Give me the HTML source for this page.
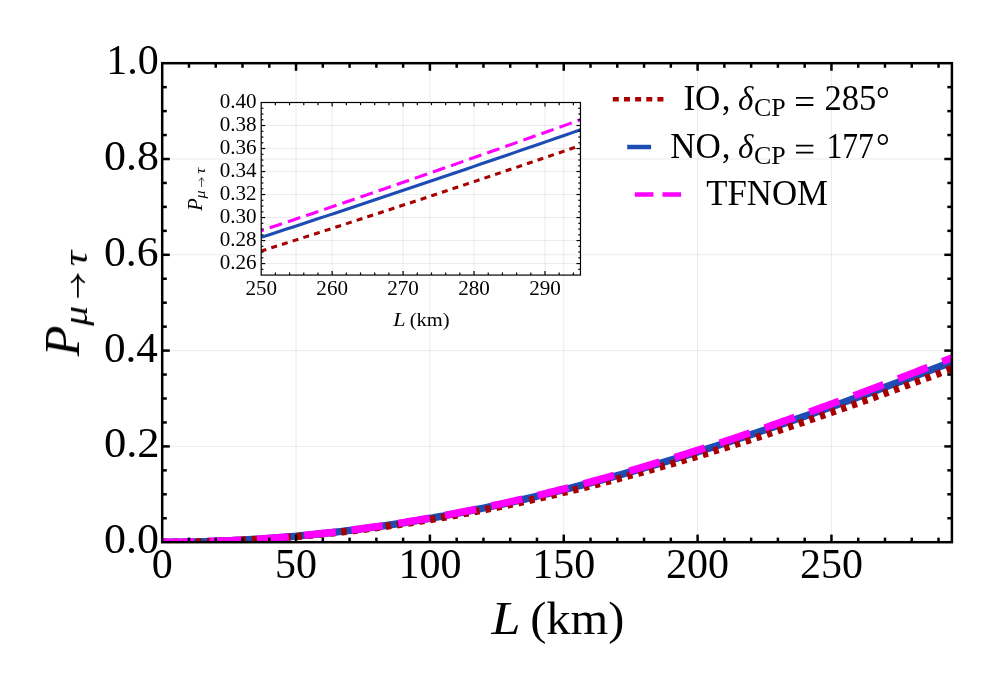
<!DOCTYPE html>
<html><head><meta charset="utf-8"><title>plot</title>
<style>html,body{margin:0;padding:0;background:#fff}svg{display:block}text{font-family:"Liberation Serif",serif;fill:#000;font-kerning:none}</style></head><body>
<svg width="997" height="691" viewBox="0 0 997 691">
<rect width="997" height="691" fill="#fff"/>
<defs><clipPath id="cm"><rect x="162.20" y="63.20" width="789.71" height="479.00"/></clipPath><clipPath id="ci"><rect x="261.20" y="102.50" width="319.27" height="172.57"/></clipPath>
</defs>
<g stroke="rgba(0,0,0,0.08)" stroke-width="1">
<line x1="296.05" y1="63.20" x2="296.05" y2="542.20"/>
<line x1="429.90" y1="63.20" x2="429.90" y2="542.20"/>
<line x1="563.75" y1="63.20" x2="563.75" y2="542.20"/>
<line x1="697.60" y1="63.20" x2="697.60" y2="542.20"/>
<line x1="831.45" y1="63.20" x2="831.45" y2="542.20"/>
<line x1="162.20" y1="446.40" x2="951.91" y2="446.40"/>
<line x1="162.20" y1="350.60" x2="951.91" y2="350.60"/>
<line x1="162.20" y1="254.80" x2="951.91" y2="254.80"/>
<line x1="162.20" y1="159.00" x2="951.91" y2="159.00"/>
</g>
<g clip-path="url(#cm)" fill="none">
<path d="M162.20,542.20 L165.50,542.20 L168.81,542.19 L172.11,542.17 L175.42,542.14 L178.72,542.11 L182.03,542.07 L185.33,542.02 L188.63,541.96 L191.94,541.90 L195.24,541.83 L198.55,541.75 L201.85,541.67 L205.16,541.57 L208.46,541.48 L211.76,541.37 L215.07,541.25 L218.37,541.13 L221.68,541.00 L224.98,540.87 L228.28,540.72 L231.59,540.57 L234.89,540.41 L238.20,540.25 L241.50,540.07 L244.81,539.89 L248.11,539.70 L251.41,539.51 L254.72,539.31 L258.02,539.10 L261.33,538.88 L264.63,538.65 L267.94,538.42 L271.24,538.18 L274.54,537.94 L277.85,537.68 L281.15,537.42 L284.46,537.15 L287.76,536.88 L291.07,536.60 L294.37,536.31 L297.67,536.01 L300.98,535.70 L304.28,535.39 L307.59,535.07 L310.89,534.75 L314.20,534.42 L317.50,534.08 L320.80,533.73 L324.11,533.37 L327.41,533.01 L330.72,532.64 L334.02,532.27 L337.33,531.89 L340.63,531.50 L343.93,531.10 L347.24,530.70 L350.54,530.29 L353.85,529.87 L357.15,529.44 L360.45,529.01 L363.76,528.57 L367.06,528.13 L370.37,527.67 L373.67,527.21 L376.98,526.75 L380.28,526.27 L383.58,525.79 L386.89,525.31 L390.19,524.81 L393.50,524.31 L396.80,523.80 L400.11,523.29 L403.41,522.77 L406.71,522.24 L410.02,521.71 L413.32,521.17 L416.63,520.62 L419.93,520.06 L423.24,519.50 L426.54,518.93 L429.84,518.36 L433.15,517.78 L436.45,517.19 L439.76,516.59 L443.06,515.99 L446.37,515.39 L449.67,514.77 L452.97,514.15 L456.28,513.52 L459.58,512.89 L462.89,512.25 L466.19,511.60 L469.49,510.95 L472.80,510.29 L476.10,509.63 L479.41,508.95 L482.71,508.28 L486.02,507.59 L489.32,506.90 L492.62,506.20 L495.93,505.50 L499.23,504.79 L502.54,504.08 L505.84,503.35 L509.15,502.63 L512.45,501.89 L515.75,501.15 L519.06,500.41 L522.36,499.65 L525.67,498.90 L528.97,498.13 L532.28,497.36 L535.58,496.59 L538.88,495.80 L542.19,495.02 L545.49,494.22 L548.80,493.42 L552.10,492.62 L555.41,491.81 L558.71,490.99 L562.01,490.17 L565.32,489.34 L568.62,488.51 L571.93,487.67 L575.23,486.82 L578.54,485.97 L581.84,485.12 L585.14,484.25 L588.45,483.39 L591.75,482.51 L595.06,481.64 L598.36,480.75 L601.66,479.86 L604.97,478.97 L608.27,478.07 L611.58,477.17 L614.88,476.26 L618.19,475.34 L621.49,474.42 L624.79,473.49 L628.10,472.56 L631.40,471.63 L634.71,470.69 L638.01,469.74 L641.32,468.79 L644.62,467.83 L647.92,466.87 L651.23,465.91 L654.53,464.94 L657.84,463.96 L661.14,462.98 L664.45,462.00 L667.75,461.01 L671.05,460.01 L674.36,459.01 L677.66,458.01 L680.97,457.00 L684.27,455.99 L687.58,454.97 L690.88,453.95 L694.18,452.92 L697.49,451.89 L700.79,450.85 L704.10,449.81 L707.40,448.77 L710.70,447.72 L714.01,446.66 L717.31,445.61 L720.62,444.55 L723.92,443.48 L727.23,442.41 L730.53,441.34 L733.83,440.26 L737.14,439.18 L740.44,438.09 L743.75,437.00 L747.05,435.91 L750.36,434.81 L753.66,433.71 L756.96,432.60 L760.27,431.49 L763.57,430.38 L766.88,429.26 L770.18,428.14 L773.49,427.02 L776.79,425.89 L780.09,424.76 L783.40,423.62 L786.70,422.48 L790.01,421.34 L793.31,420.19 L796.62,419.05 L799.92,417.89 L803.22,416.74 L806.53,415.58 L809.83,414.42 L813.14,413.25 L816.44,412.08 L819.75,410.91 L823.05,409.74 L826.35,408.56 L829.66,407.38 L832.96,406.20 L836.27,405.01 L839.57,403.82 L842.87,402.63 L846.18,401.43 L849.48,400.24 L852.79,399.04 L856.09,397.83 L859.40,396.63 L862.70,395.42 L866.00,394.21 L869.31,392.99 L872.61,391.78 L875.92,390.56 L879.22,389.34 L882.53,388.12 L885.83,386.89 L889.13,385.66 L892.44,384.43 L895.74,383.20 L899.05,381.97 L902.35,380.73 L905.66,379.49 L908.96,378.25 L912.26,377.01 L915.57,375.76 L918.87,374.52 L922.18,373.27 L925.48,372.02 L928.79,370.76 L932.09,369.51 L935.39,368.25 L938.70,367.00 L942.00,365.74 L945.31,364.48 L948.61,363.22 L951.91,361.95" stroke="#1c4cb4" stroke-width="7.3"/>
<path d="M162.20,542.20 L165.50,542.20 L168.81,542.19 L172.11,542.17 L175.42,542.14 L178.72,542.11 L182.03,542.07 L185.33,542.03 L188.63,541.98 L191.94,541.92 L195.24,541.85 L198.55,541.78 L201.85,541.70 L205.16,541.61 L208.46,541.52 L211.76,541.41 L215.07,541.31 L218.37,541.19 L221.68,541.07 L224.98,540.94 L228.28,540.80 L231.59,540.66 L234.89,540.51 L238.20,540.35 L241.50,540.19 L244.81,540.02 L248.11,539.84 L251.41,539.66 L254.72,539.47 L258.02,539.27 L261.33,539.06 L264.63,538.85 L267.94,538.63 L271.24,538.41 L274.54,538.17 L277.85,537.93 L281.15,537.69 L284.46,537.43 L287.76,537.17 L291.07,536.91 L294.37,536.63 L297.67,536.35 L300.98,536.06 L304.28,535.77 L307.59,535.47 L310.89,535.16 L314.20,534.85 L317.50,534.52 L320.80,534.20 L324.11,533.86 L327.41,533.52 L330.72,533.17 L334.02,532.82 L337.33,532.45 L340.63,532.09 L343.93,531.71 L347.24,531.33 L350.54,530.94 L353.85,530.54 L357.15,530.14 L360.45,529.73 L363.76,529.32 L367.06,528.90 L370.37,528.47 L373.67,528.03 L376.98,527.59 L380.28,527.14 L383.58,526.69 L386.89,526.23 L390.19,525.76 L393.50,525.28 L396.80,524.80 L400.11,524.32 L403.41,523.82 L406.71,523.32 L410.02,522.82 L413.32,522.30 L416.63,521.78 L419.93,521.26 L423.24,520.72 L426.54,520.19 L429.84,519.64 L433.15,519.09 L436.45,518.53 L439.76,517.97 L443.06,517.40 L446.37,516.82 L449.67,516.24 L452.97,515.65 L456.28,515.05 L459.58,514.45 L462.89,513.84 L466.19,513.23 L469.49,512.61 L472.80,511.98 L476.10,511.35 L479.41,510.71 L482.71,510.07 L486.02,509.42 L489.32,508.76 L492.62,508.10 L495.93,507.43 L499.23,506.76 L502.54,506.07 L505.84,505.39 L509.15,504.70 L512.45,504.00 L515.75,503.29 L519.06,502.58 L522.36,501.87 L525.67,501.15 L528.97,500.42 L532.28,499.68 L535.58,498.95 L538.88,498.20 L542.19,497.45 L545.49,496.69 L548.80,495.93 L552.10,495.16 L555.41,494.39 L558.71,493.61 L562.01,492.83 L565.32,492.04 L568.62,491.24 L571.93,490.44 L575.23,489.63 L578.54,488.82 L581.84,488.00 L585.14,487.18 L588.45,486.35 L591.75,485.52 L595.06,484.68 L598.36,483.84 L601.66,482.99 L604.97,482.13 L608.27,481.27 L611.58,480.40 L614.88,479.53 L618.19,478.66 L621.49,477.78 L624.79,476.89 L628.10,476.00 L631.40,475.10 L634.71,474.20 L638.01,473.29 L641.32,472.38 L644.62,471.47 L647.92,470.55 L651.23,469.62 L654.53,468.69 L657.84,467.75 L661.14,466.81 L664.45,465.86 L667.75,464.91 L671.05,463.96 L674.36,463.00 L677.66,462.03 L680.97,461.06 L684.27,460.09 L687.58,459.11 L690.88,458.13 L694.18,457.14 L697.49,456.15 L700.79,455.15 L704.10,454.15 L707.40,453.14 L710.70,452.13 L714.01,451.12 L717.31,450.10 L720.62,449.08 L723.92,448.05 L727.23,447.02 L730.53,445.98 L733.83,444.94 L737.14,443.89 L740.44,442.84 L743.75,441.79 L747.05,440.73 L750.36,439.67 L753.66,438.61 L756.96,437.54 L760.27,436.47 L763.57,435.39 L766.88,434.31 L770.18,433.22 L773.49,432.13 L776.79,431.04 L780.09,429.94 L783.40,428.84 L786.70,427.74 L790.01,426.63 L793.31,425.52 L796.62,424.41 L799.92,423.29 L803.22,422.17 L806.53,421.04 L809.83,419.91 L813.14,418.78 L816.44,417.64 L819.75,416.50 L823.05,415.36 L826.35,414.21 L829.66,413.06 L832.96,411.91 L836.27,410.75 L839.57,409.60 L842.87,408.43 L846.18,407.27 L849.48,406.10 L852.79,404.93 L856.09,403.75 L859.40,402.57 L862.70,401.39 L866.00,400.21 L869.31,399.02 L872.61,397.83 L875.92,396.64 L879.22,395.45 L882.53,394.25 L885.83,393.05 L889.13,391.84 L892.44,390.64 L895.74,389.43 L899.05,388.22 L902.35,387.01 L905.66,385.79 L908.96,384.57 L912.26,383.35 L915.57,382.12 L918.87,380.90 L922.18,379.67 L925.48,378.44 L928.79,377.21 L932.09,375.97 L935.39,374.73 L938.70,373.49 L942.00,372.25 L945.31,371.01 L948.61,369.76 L951.91,368.51" stroke="#a80000" stroke-width="7.3" stroke-dasharray="5.3 5.917"/>
<path d="M162.20,542.20 L165.50,542.20 L168.81,542.18 L172.11,542.17 L175.42,542.14 L178.72,542.11 L182.03,542.06 L185.33,542.02 L188.63,541.96 L191.94,541.90 L195.24,541.82 L198.55,541.75 L201.85,541.66 L205.16,541.57 L208.46,541.46 L211.76,541.36 L215.07,541.24 L218.37,541.12 L221.68,540.99 L224.98,540.85 L228.28,540.70 L231.59,540.55 L234.89,540.39 L238.20,540.22 L241.50,540.04 L244.81,539.86 L248.11,539.67 L251.41,539.47 L254.72,539.26 L258.02,539.05 L261.33,538.83 L264.63,538.60 L267.94,538.37 L271.24,538.13 L274.54,537.88 L277.85,537.62 L281.15,537.35 L284.46,537.08 L287.76,536.80 L291.07,536.52 L294.37,536.22 L297.67,535.92 L300.98,535.61 L304.28,535.30 L307.59,534.97 L310.89,534.64 L314.20,534.30 L317.50,533.96 L320.80,533.61 L324.11,533.25 L327.41,532.88 L330.72,532.51 L334.02,532.13 L337.33,531.74 L340.63,531.34 L343.93,530.94 L347.24,530.53 L350.54,530.11 L353.85,529.69 L357.15,529.26 L360.45,528.82 L363.76,528.37 L367.06,527.92 L370.37,527.46 L373.67,526.99 L376.98,526.52 L380.28,526.04 L383.58,525.55 L386.89,525.06 L390.19,524.56 L393.50,524.05 L396.80,523.53 L400.11,523.01 L403.41,522.48 L406.71,521.94 L410.02,521.40 L413.32,520.85 L416.63,520.29 L419.93,519.73 L423.24,519.16 L426.54,518.58 L429.84,518.00 L433.15,517.41 L436.45,516.81 L439.76,516.21 L443.06,515.59 L446.37,514.98 L449.67,514.35 L452.97,513.72 L456.28,513.08 L459.58,512.44 L462.89,511.79 L466.19,511.13 L469.49,510.47 L472.80,509.80 L476.10,509.12 L479.41,508.44 L482.71,507.75 L486.02,507.05 L489.32,506.35 L492.62,505.64 L495.93,504.93 L499.23,504.20 L502.54,503.48 L505.84,502.74 L509.15,502.00 L512.45,501.25 L515.75,500.50 L519.06,499.74 L522.36,498.98 L525.67,498.21 L528.97,497.43 L532.28,496.64 L535.58,495.85 L538.88,495.06 L542.19,494.26 L545.49,493.45 L548.80,492.63 L552.10,491.81 L555.41,490.99 L558.71,490.16 L562.01,489.32 L565.32,488.47 L568.62,487.63 L571.93,486.77 L575.23,485.91 L578.54,485.04 L581.84,484.17 L585.14,483.29 L588.45,482.41 L591.75,481.52 L595.06,480.62 L598.36,479.72 L601.66,478.82 L604.97,477.90 L608.27,476.99 L611.58,476.06 L614.88,475.14 L618.19,474.20 L621.49,473.26 L624.79,472.32 L628.10,471.37 L631.40,470.41 L634.71,469.45 L638.01,468.49 L641.32,467.52 L644.62,466.54 L647.92,465.56 L651.23,464.57 L654.53,463.58 L657.84,462.59 L661.14,461.59 L664.45,460.58 L667.75,459.57 L671.05,458.55 L674.36,457.53 L677.66,456.50 L680.97,455.47 L684.27,454.44 L687.58,453.40 L690.88,452.35 L694.18,451.30 L697.49,450.25 L700.79,449.19 L704.10,448.12 L707.40,447.06 L710.70,445.98 L714.01,444.91 L717.31,443.82 L720.62,442.74 L723.92,441.65 L727.23,440.55 L730.53,439.45 L733.83,438.35 L737.14,437.24 L740.44,436.13 L743.75,435.01 L747.05,433.89 L750.36,432.76 L753.66,431.64 L756.96,430.50 L760.27,429.37 L763.57,428.22 L766.88,427.08 L770.18,425.93 L773.49,424.78 L776.79,423.62 L780.09,422.46 L783.40,421.30 L786.70,420.13 L790.01,418.96 L793.31,417.78 L796.62,416.60 L799.92,415.42 L803.22,414.23 L806.53,413.04 L809.83,411.85 L813.14,410.65 L816.44,409.45 L819.75,408.25 L823.05,407.04 L826.35,405.83 L829.66,404.62 L832.96,403.40 L836.27,402.18 L839.57,400.96 L842.87,399.73 L846.18,398.51 L849.48,397.27 L852.79,396.04 L856.09,394.80 L859.40,393.56 L862.70,392.32 L866.00,391.07 L869.31,389.82 L872.61,388.57 L875.92,387.31 L879.22,386.05 L882.53,384.79 L885.83,383.53 L889.13,382.27 L892.44,381.00 L895.74,379.73 L899.05,378.45 L902.35,377.18 L905.66,375.90 L908.96,374.62 L912.26,373.34 L915.57,372.05 L918.87,370.77 L922.18,369.48 L925.48,368.19 L928.79,366.89 L932.09,365.60 L935.39,364.30 L938.70,363.00 L942.00,361.70 L945.31,360.40 L948.61,359.09 L951.91,357.79" stroke="#ff00ff" stroke-width="7.3" stroke-dasharray="31.8 15.6"/>
</g>
<g stroke="#000" stroke-width="2.5" fill="none">
<rect x="162.20" y="63.20" width="789.71" height="479.00"/>
<line x1="188.97" y1="542.20" x2="188.97" y2="537.60"/>
<line x1="188.97" y1="63.20" x2="188.97" y2="67.80"/>
<line x1="215.74" y1="542.20" x2="215.74" y2="537.60"/>
<line x1="215.74" y1="63.20" x2="215.74" y2="67.80"/>
<line x1="242.51" y1="542.20" x2="242.51" y2="537.60"/>
<line x1="242.51" y1="63.20" x2="242.51" y2="67.80"/>
<line x1="269.28" y1="542.20" x2="269.28" y2="537.60"/>
<line x1="269.28" y1="63.20" x2="269.28" y2="67.80"/>
<line x1="296.05" y1="542.20" x2="296.05" y2="534.60"/>
<line x1="296.05" y1="63.20" x2="296.05" y2="70.80"/>
<line x1="322.82" y1="542.20" x2="322.82" y2="537.60"/>
<line x1="322.82" y1="63.20" x2="322.82" y2="67.80"/>
<line x1="349.59" y1="542.20" x2="349.59" y2="537.60"/>
<line x1="349.59" y1="63.20" x2="349.59" y2="67.80"/>
<line x1="376.36" y1="542.20" x2="376.36" y2="537.60"/>
<line x1="376.36" y1="63.20" x2="376.36" y2="67.80"/>
<line x1="403.13" y1="542.20" x2="403.13" y2="537.60"/>
<line x1="403.13" y1="63.20" x2="403.13" y2="67.80"/>
<line x1="429.90" y1="542.20" x2="429.90" y2="534.60"/>
<line x1="429.90" y1="63.20" x2="429.90" y2="70.80"/>
<line x1="456.67" y1="542.20" x2="456.67" y2="537.60"/>
<line x1="456.67" y1="63.20" x2="456.67" y2="67.80"/>
<line x1="483.44" y1="542.20" x2="483.44" y2="537.60"/>
<line x1="483.44" y1="63.20" x2="483.44" y2="67.80"/>
<line x1="510.21" y1="542.20" x2="510.21" y2="537.60"/>
<line x1="510.21" y1="63.20" x2="510.21" y2="67.80"/>
<line x1="536.98" y1="542.20" x2="536.98" y2="537.60"/>
<line x1="536.98" y1="63.20" x2="536.98" y2="67.80"/>
<line x1="563.75" y1="542.20" x2="563.75" y2="534.60"/>
<line x1="563.75" y1="63.20" x2="563.75" y2="70.80"/>
<line x1="590.52" y1="542.20" x2="590.52" y2="537.60"/>
<line x1="590.52" y1="63.20" x2="590.52" y2="67.80"/>
<line x1="617.29" y1="542.20" x2="617.29" y2="537.60"/>
<line x1="617.29" y1="63.20" x2="617.29" y2="67.80"/>
<line x1="644.06" y1="542.20" x2="644.06" y2="537.60"/>
<line x1="644.06" y1="63.20" x2="644.06" y2="67.80"/>
<line x1="670.83" y1="542.20" x2="670.83" y2="537.60"/>
<line x1="670.83" y1="63.20" x2="670.83" y2="67.80"/>
<line x1="697.60" y1="542.20" x2="697.60" y2="534.60"/>
<line x1="697.60" y1="63.20" x2="697.60" y2="70.80"/>
<line x1="724.37" y1="542.20" x2="724.37" y2="537.60"/>
<line x1="724.37" y1="63.20" x2="724.37" y2="67.80"/>
<line x1="751.14" y1="542.20" x2="751.14" y2="537.60"/>
<line x1="751.14" y1="63.20" x2="751.14" y2="67.80"/>
<line x1="777.91" y1="542.20" x2="777.91" y2="537.60"/>
<line x1="777.91" y1="63.20" x2="777.91" y2="67.80"/>
<line x1="804.68" y1="542.20" x2="804.68" y2="537.60"/>
<line x1="804.68" y1="63.20" x2="804.68" y2="67.80"/>
<line x1="831.45" y1="542.20" x2="831.45" y2="534.60"/>
<line x1="831.45" y1="63.20" x2="831.45" y2="70.80"/>
<line x1="858.22" y1="542.20" x2="858.22" y2="537.60"/>
<line x1="858.22" y1="63.20" x2="858.22" y2="67.80"/>
<line x1="884.99" y1="542.20" x2="884.99" y2="537.60"/>
<line x1="884.99" y1="63.20" x2="884.99" y2="67.80"/>
<line x1="911.76" y1="542.20" x2="911.76" y2="537.60"/>
<line x1="911.76" y1="63.20" x2="911.76" y2="67.80"/>
<line x1="938.53" y1="542.20" x2="938.53" y2="537.60"/>
<line x1="938.53" y1="63.20" x2="938.53" y2="67.80"/>
<line x1="162.20" y1="518.25" x2="166.80" y2="518.25"/>
<line x1="951.91" y1="518.25" x2="947.31" y2="518.25"/>
<line x1="162.20" y1="494.30" x2="166.80" y2="494.30"/>
<line x1="951.91" y1="494.30" x2="947.31" y2="494.30"/>
<line x1="162.20" y1="470.35" x2="166.80" y2="470.35"/>
<line x1="951.91" y1="470.35" x2="947.31" y2="470.35"/>
<line x1="162.20" y1="446.40" x2="169.80" y2="446.40"/>
<line x1="951.91" y1="446.40" x2="944.31" y2="446.40"/>
<line x1="162.20" y1="422.45" x2="166.80" y2="422.45"/>
<line x1="951.91" y1="422.45" x2="947.31" y2="422.45"/>
<line x1="162.20" y1="398.50" x2="166.80" y2="398.50"/>
<line x1="951.91" y1="398.50" x2="947.31" y2="398.50"/>
<line x1="162.20" y1="374.55" x2="166.80" y2="374.55"/>
<line x1="951.91" y1="374.55" x2="947.31" y2="374.55"/>
<line x1="162.20" y1="350.60" x2="169.80" y2="350.60"/>
<line x1="951.91" y1="350.60" x2="944.31" y2="350.60"/>
<line x1="162.20" y1="326.65" x2="166.80" y2="326.65"/>
<line x1="951.91" y1="326.65" x2="947.31" y2="326.65"/>
<line x1="162.20" y1="302.70" x2="166.80" y2="302.70"/>
<line x1="951.91" y1="302.70" x2="947.31" y2="302.70"/>
<line x1="162.20" y1="278.75" x2="166.80" y2="278.75"/>
<line x1="951.91" y1="278.75" x2="947.31" y2="278.75"/>
<line x1="162.20" y1="254.80" x2="169.80" y2="254.80"/>
<line x1="951.91" y1="254.80" x2="944.31" y2="254.80"/>
<line x1="162.20" y1="230.85" x2="166.80" y2="230.85"/>
<line x1="951.91" y1="230.85" x2="947.31" y2="230.85"/>
<line x1="162.20" y1="206.90" x2="166.80" y2="206.90"/>
<line x1="951.91" y1="206.90" x2="947.31" y2="206.90"/>
<line x1="162.20" y1="182.95" x2="166.80" y2="182.95"/>
<line x1="951.91" y1="182.95" x2="947.31" y2="182.95"/>
<line x1="162.20" y1="159.00" x2="169.80" y2="159.00"/>
<line x1="951.91" y1="159.00" x2="944.31" y2="159.00"/>
<line x1="162.20" y1="135.05" x2="166.80" y2="135.05"/>
<line x1="951.91" y1="135.05" x2="947.31" y2="135.05"/>
<line x1="162.20" y1="111.10" x2="166.80" y2="111.10"/>
<line x1="951.91" y1="111.10" x2="947.31" y2="111.10"/>
<line x1="162.20" y1="87.15" x2="166.80" y2="87.15"/>
<line x1="951.91" y1="87.15" x2="947.31" y2="87.15"/>
</g>
<g stroke="rgba(0,0,0,0.08)" stroke-width="1">
<line x1="332.15" y1="102.50" x2="332.15" y2="275.07"/>
<line x1="403.10" y1="102.50" x2="403.10" y2="275.07"/>
<line x1="474.05" y1="102.50" x2="474.05" y2="275.07"/>
<line x1="545.00" y1="102.50" x2="545.00" y2="275.07"/>
<line x1="261.20" y1="263.57" x2="580.47" y2="263.57"/>
<line x1="261.20" y1="240.56" x2="580.47" y2="240.56"/>
<line x1="261.20" y1="217.55" x2="580.47" y2="217.55"/>
<line x1="261.20" y1="194.54" x2="580.47" y2="194.54"/>
<line x1="261.20" y1="171.53" x2="580.47" y2="171.53"/>
<line x1="261.20" y1="148.52" x2="580.47" y2="148.52"/>
<line x1="261.20" y1="125.51" x2="580.47" y2="125.51"/>
</g>
<g clip-path="url(#ci)" fill="none">
<path d="M261.20,237.34 L269.39,234.68 L277.57,232.01 L285.76,229.34 L293.95,226.66 L302.13,223.98 L310.32,221.28 L318.51,218.59 L326.69,215.89 L334.88,213.18 L343.07,210.47 L351.25,207.75 L359.44,205.02 L367.62,202.30 L375.81,199.56 L384.00,196.82 L392.18,194.08 L400.37,191.33 L408.56,188.58 L416.74,185.82 L424.93,183.05 L433.12,180.29 L441.30,177.51 L449.49,174.74 L457.68,171.96 L465.86,169.17 L474.05,166.38 L482.24,163.59 L490.42,160.79 L498.61,157.99 L506.80,155.18 L514.98,152.37 L523.17,149.56 L531.36,146.74 L539.54,143.92 L547.73,141.10 L555.92,138.27 L564.10,135.44 L572.29,132.60 L580.47,129.77" stroke="#1c4cb4" stroke-width="3.1"/>
<path d="M261.20,251.03 L269.39,248.44 L277.57,245.84 L285.76,243.23 L293.95,240.62 L302.13,238.00 L310.32,235.38 L318.51,232.75 L326.69,230.11 L334.88,227.46 L343.07,224.81 L351.25,222.15 L359.44,219.49 L367.62,216.82 L375.81,214.15 L384.00,211.47 L392.18,208.78 L400.37,206.09 L408.56,203.39 L416.74,200.69 L424.93,197.98 L433.12,195.26 L441.30,192.54 L449.49,189.82 L457.68,187.08 L465.86,184.35 L474.05,181.61 L482.24,178.86 L490.42,176.11 L498.61,173.35 L506.80,170.59 L514.98,167.82 L523.17,165.05 L531.36,162.28 L539.54,159.50 L547.73,156.71 L555.92,153.92 L564.10,151.13 L572.29,148.33 L580.47,145.53" stroke="#a80000" stroke-width="3.1" stroke-dasharray="6 5.215" stroke-dashoffset="0.65"/>
<path d="M261.20,230.67 L269.39,227.93 L277.57,225.19 L285.76,222.44 L293.95,219.69 L302.13,216.92 L310.32,214.16 L318.51,211.38 L326.69,208.60 L334.88,205.82 L343.07,203.02 L351.25,200.22 L359.44,197.42 L367.62,194.61 L375.81,191.79 L384.00,188.97 L392.18,186.15 L400.37,183.31 L408.56,180.48 L416.74,177.63 L424.93,174.78 L433.12,171.93 L441.30,169.07 L449.49,166.21 L457.68,163.34 L465.86,160.46 L474.05,157.58 L482.24,154.70 L490.42,151.81 L498.61,148.92 L506.80,146.02 L514.98,143.12 L523.17,140.21 L531.36,137.30 L539.54,134.39 L547.73,131.47 L555.92,128.55 L564.10,125.62 L572.29,122.69 L580.47,119.76" stroke="#ff00ff" stroke-width="3.1" stroke-dasharray="13 6.17" stroke-dashoffset="10.2"/>
</g>
<g stroke="#000" stroke-width="1.2" fill="none">
<rect x="261.20" y="102.50" width="319.27" height="172.57"/>
<line x1="275.39" y1="275.07" x2="275.39" y2="272.43"/>
<line x1="275.39" y1="102.50" x2="275.39" y2="105.15"/>
<line x1="289.58" y1="275.07" x2="289.58" y2="272.43"/>
<line x1="289.58" y1="102.50" x2="289.58" y2="105.15"/>
<line x1="303.77" y1="275.07" x2="303.77" y2="272.43"/>
<line x1="303.77" y1="102.50" x2="303.77" y2="105.15"/>
<line x1="317.96" y1="275.07" x2="317.96" y2="272.43"/>
<line x1="317.96" y1="102.50" x2="317.96" y2="105.15"/>
<line x1="332.15" y1="275.07" x2="332.15" y2="271.07"/>
<line x1="332.15" y1="102.50" x2="332.15" y2="106.50"/>
<line x1="346.34" y1="275.07" x2="346.34" y2="272.43"/>
<line x1="346.34" y1="102.50" x2="346.34" y2="105.15"/>
<line x1="360.53" y1="275.07" x2="360.53" y2="272.43"/>
<line x1="360.53" y1="102.50" x2="360.53" y2="105.15"/>
<line x1="374.72" y1="275.07" x2="374.72" y2="272.43"/>
<line x1="374.72" y1="102.50" x2="374.72" y2="105.15"/>
<line x1="388.91" y1="275.07" x2="388.91" y2="272.43"/>
<line x1="388.91" y1="102.50" x2="388.91" y2="105.15"/>
<line x1="403.10" y1="275.07" x2="403.10" y2="271.07"/>
<line x1="403.10" y1="102.50" x2="403.10" y2="106.50"/>
<line x1="417.29" y1="275.07" x2="417.29" y2="272.43"/>
<line x1="417.29" y1="102.50" x2="417.29" y2="105.15"/>
<line x1="431.48" y1="275.07" x2="431.48" y2="272.43"/>
<line x1="431.48" y1="102.50" x2="431.48" y2="105.15"/>
<line x1="445.67" y1="275.07" x2="445.67" y2="272.43"/>
<line x1="445.67" y1="102.50" x2="445.67" y2="105.15"/>
<line x1="459.86" y1="275.07" x2="459.86" y2="272.43"/>
<line x1="459.86" y1="102.50" x2="459.86" y2="105.15"/>
<line x1="474.05" y1="275.07" x2="474.05" y2="271.07"/>
<line x1="474.05" y1="102.50" x2="474.05" y2="106.50"/>
<line x1="488.24" y1="275.07" x2="488.24" y2="272.43"/>
<line x1="488.24" y1="102.50" x2="488.24" y2="105.15"/>
<line x1="502.43" y1="275.07" x2="502.43" y2="272.43"/>
<line x1="502.43" y1="102.50" x2="502.43" y2="105.15"/>
<line x1="516.62" y1="275.07" x2="516.62" y2="272.43"/>
<line x1="516.62" y1="102.50" x2="516.62" y2="105.15"/>
<line x1="530.81" y1="275.07" x2="530.81" y2="272.43"/>
<line x1="530.81" y1="102.50" x2="530.81" y2="105.15"/>
<line x1="545.00" y1="275.07" x2="545.00" y2="271.07"/>
<line x1="545.00" y1="102.50" x2="545.00" y2="106.50"/>
<line x1="559.19" y1="275.07" x2="559.19" y2="272.43"/>
<line x1="559.19" y1="102.50" x2="559.19" y2="105.15"/>
<line x1="573.38" y1="275.07" x2="573.38" y2="272.43"/>
<line x1="573.38" y1="102.50" x2="573.38" y2="105.15"/>
<line x1="261.20" y1="269.32" x2="263.40" y2="269.32"/>
<line x1="580.47" y1="269.32" x2="578.27" y2="269.32"/>
<line x1="261.20" y1="263.57" x2="265.20" y2="263.57"/>
<line x1="580.47" y1="263.57" x2="576.47" y2="263.57"/>
<line x1="261.20" y1="257.82" x2="263.40" y2="257.82"/>
<line x1="580.47" y1="257.82" x2="578.27" y2="257.82"/>
<line x1="261.20" y1="252.06" x2="263.40" y2="252.06"/>
<line x1="580.47" y1="252.06" x2="578.27" y2="252.06"/>
<line x1="261.20" y1="246.31" x2="263.40" y2="246.31"/>
<line x1="580.47" y1="246.31" x2="578.27" y2="246.31"/>
<line x1="261.20" y1="240.56" x2="265.20" y2="240.56"/>
<line x1="580.47" y1="240.56" x2="576.47" y2="240.56"/>
<line x1="261.20" y1="234.81" x2="263.40" y2="234.81"/>
<line x1="580.47" y1="234.81" x2="578.27" y2="234.81"/>
<line x1="261.20" y1="229.06" x2="263.40" y2="229.06"/>
<line x1="580.47" y1="229.06" x2="578.27" y2="229.06"/>
<line x1="261.20" y1="223.30" x2="263.40" y2="223.30"/>
<line x1="580.47" y1="223.30" x2="578.27" y2="223.30"/>
<line x1="261.20" y1="217.55" x2="265.20" y2="217.55"/>
<line x1="580.47" y1="217.55" x2="576.47" y2="217.55"/>
<line x1="261.20" y1="211.80" x2="263.40" y2="211.80"/>
<line x1="580.47" y1="211.80" x2="578.27" y2="211.80"/>
<line x1="261.20" y1="206.05" x2="263.40" y2="206.05"/>
<line x1="580.47" y1="206.05" x2="578.27" y2="206.05"/>
<line x1="261.20" y1="200.29" x2="263.40" y2="200.29"/>
<line x1="580.47" y1="200.29" x2="578.27" y2="200.29"/>
<line x1="261.20" y1="194.54" x2="265.20" y2="194.54"/>
<line x1="580.47" y1="194.54" x2="576.47" y2="194.54"/>
<line x1="261.20" y1="188.79" x2="263.40" y2="188.79"/>
<line x1="580.47" y1="188.79" x2="578.27" y2="188.79"/>
<line x1="261.20" y1="183.04" x2="263.40" y2="183.04"/>
<line x1="580.47" y1="183.04" x2="578.27" y2="183.04"/>
<line x1="261.20" y1="177.28" x2="263.40" y2="177.28"/>
<line x1="580.47" y1="177.28" x2="578.27" y2="177.28"/>
<line x1="261.20" y1="171.53" x2="265.20" y2="171.53"/>
<line x1="580.47" y1="171.53" x2="576.47" y2="171.53"/>
<line x1="261.20" y1="165.78" x2="263.40" y2="165.78"/>
<line x1="580.47" y1="165.78" x2="578.27" y2="165.78"/>
<line x1="261.20" y1="160.03" x2="263.40" y2="160.03"/>
<line x1="580.47" y1="160.03" x2="578.27" y2="160.03"/>
<line x1="261.20" y1="154.27" x2="263.40" y2="154.27"/>
<line x1="580.47" y1="154.27" x2="578.27" y2="154.27"/>
<line x1="261.20" y1="148.52" x2="265.20" y2="148.52"/>
<line x1="580.47" y1="148.52" x2="576.47" y2="148.52"/>
<line x1="261.20" y1="142.77" x2="263.40" y2="142.77"/>
<line x1="580.47" y1="142.77" x2="578.27" y2="142.77"/>
<line x1="261.20" y1="137.02" x2="263.40" y2="137.02"/>
<line x1="580.47" y1="137.02" x2="578.27" y2="137.02"/>
<line x1="261.20" y1="131.26" x2="263.40" y2="131.26"/>
<line x1="580.47" y1="131.26" x2="578.27" y2="131.26"/>
<line x1="261.20" y1="125.51" x2="265.20" y2="125.51"/>
<line x1="580.47" y1="125.51" x2="576.47" y2="125.51"/>
<line x1="261.20" y1="119.76" x2="263.40" y2="119.76"/>
<line x1="580.47" y1="119.76" x2="578.27" y2="119.76"/>
<line x1="261.20" y1="114.01" x2="263.40" y2="114.01"/>
<line x1="580.47" y1="114.01" x2="578.27" y2="114.01"/>
<line x1="261.20" y1="108.25" x2="263.40" y2="108.25"/>
<line x1="580.47" y1="108.25" x2="578.27" y2="108.25"/>
</g>
<line x1="612.8" y1="99.3" x2="663.5" y2="99.3" stroke="#a80000" stroke-width="4.5" stroke-dasharray="6 5.16"/>
<line x1="627.2" y1="147.0" x2="651.1" y2="147.0" stroke="#1c4cb4" stroke-width="4.5"/>
<line x1="634.8" y1="194.6" x2="681.1" y2="194.6" stroke="#ff00ff" stroke-width="4.5" stroke-dasharray="18.65 9.05"/>
<path d="M796,97.95 H813.3 M796,105.00 H813.3" stroke="#000" stroke-width="1.8" fill="none"/>
<path d="M796,145.55 H813.3 M796,152.60 H813.3" stroke="#000" stroke-width="1.8" fill="none"/>
<g opacity="0.999">
<text x="162.20" y="578.20" font-size="42" text-anchor="middle">0</text>
<text x="296.05" y="578.20" font-size="42" text-anchor="middle">50</text>
<text x="429.90" y="578.20" font-size="42" text-anchor="middle">100</text>
<text x="563.75" y="578.20" font-size="42" text-anchor="middle">150</text>
<text x="697.60" y="578.20" font-size="42" text-anchor="middle">200</text>
<text x="831.45" y="578.20" font-size="42" text-anchor="middle">250</text>
<text x="103.93" y="553.20" font-size="42" textLength="54.95" lengthAdjust="spacingAndGlyphs">0.0</text>
<text x="103.90" y="457.40" font-size="42" textLength="55.76" lengthAdjust="spacingAndGlyphs">0.2</text>
<text x="103.96" y="361.60" font-size="42" textLength="53.92" lengthAdjust="spacingAndGlyphs">0.4</text>
<text x="103.94" y="265.80" font-size="42" textLength="54.56" lengthAdjust="spacingAndGlyphs">0.6</text>
<text x="103.93" y="170.00" font-size="42" textLength="54.95" lengthAdjust="spacingAndGlyphs">0.8</text>
<text x="106.31" y="74.20" font-size="42" textLength="52.49" lengthAdjust="spacingAndGlyphs">1.0</text>
<text x="491.41" y="634.20" font-size="45.5" font-style="italic" textLength="28.96" lengthAdjust="spacingAndGlyphs">L</text>
<text x="530.17" y="634.20" font-size="45.5" textLength="94.16" lengthAdjust="spacingAndGlyphs">(km)</text>
<text x="261.20" y="294.60" font-size="21.1" text-anchor="middle">250</text>
<text x="332.15" y="294.60" font-size="21.1" text-anchor="middle">260</text>
<text x="403.10" y="294.60" font-size="21.1" text-anchor="middle">270</text>
<text x="474.05" y="294.60" font-size="21.1" text-anchor="middle">280</text>
<text x="545.00" y="294.60" font-size="21.1" text-anchor="middle">290</text>
<text x="256.60" y="269.37" font-size="21.1" text-anchor="end">0.26</text>
<text x="256.60" y="246.36" font-size="21.1" text-anchor="end">0.28</text>
<text x="256.60" y="223.35" font-size="21.1" text-anchor="end">0.30</text>
<text x="256.60" y="200.34" font-size="21.1" text-anchor="end">0.32</text>
<text x="256.60" y="177.33" font-size="21.1" text-anchor="end">0.34</text>
<text x="256.60" y="154.32" font-size="21.1" text-anchor="end">0.36</text>
<text x="256.60" y="131.31" font-size="21.1" text-anchor="end">0.38</text>
<text x="256.60" y="108.30" font-size="21.1" text-anchor="end">0.40</text>
<text x="393.36" y="325.60" font-size="19.5" font-style="italic" textLength="12.29" lengthAdjust="spacingAndGlyphs">L</text>
<text x="409.70" y="325.60" font-size="19.5" textLength="39.90" lengthAdjust="spacingAndGlyphs">(km)</text>
<text x="683.44" y="110.00" font-size="35">IO</text>
<text x="721.67" y="110.00" font-size="35">,</text>
<text x="737.93" y="110.00" font-size="33.5" font-style="italic" textLength="15.33" lengthAdjust="spacingAndGlyphs">δ</text>
<text x="753.94" y="116.20" font-size="24.4" textLength="31.70" lengthAdjust="spacingAndGlyphs">CP</text>
<text x="824.38" y="110.00" font-size="35" textLength="51.76" lengthAdjust="spacingAndGlyphs">285</text>
<text x="875.96" y="110.70" font-size="35" textLength="13.72" lengthAdjust="spacingAndGlyphs">°</text>
<text x="670.19" y="157.60" font-size="35">NO</text>
<text x="721.67" y="157.60" font-size="35">,</text>
<text x="737.93" y="157.60" font-size="33.5" font-style="italic" textLength="15.33" lengthAdjust="spacingAndGlyphs">δ</text>
<text x="753.94" y="163.80" font-size="24.4" textLength="31.70" lengthAdjust="spacingAndGlyphs">CP</text>
<text x="826.42" y="157.60" font-size="35" textLength="47.50" lengthAdjust="spacingAndGlyphs">177</text>
<text x="875.96" y="158.30" font-size="35" textLength="13.72" lengthAdjust="spacingAndGlyphs">°</text>
<text x="706.27" y="205.30" font-size="35" textLength="121.75" lengthAdjust="spacingAndGlyphs">TFNOM</text>
<g transform="translate(79.0,356.3) rotate(-90)"><g><text x="-0.13" y="0.00" font-size="49.8" font-style="italic" textLength="30.71" lengthAdjust="spacingAndGlyphs">P</text><text x="30.44" y="8.00" font-size="34" font-style="italic" textLength="19.88" lengthAdjust="spacingAndGlyphs">μ</text><text x="89.95" y="8.00" font-size="34" font-style="italic" textLength="15.44" lengthAdjust="spacingAndGlyphs">τ</text><path d="M58.6,-1.1 H80.4 M73.7,-7.95 Q76.7,-2.9 81.2,-1.1 Q76.7,0.7 73.7,5.75" fill="none" stroke="#000" stroke-width="1.75"/></g></g>
<g transform="translate(202.0,210.8) rotate(-90) scale(0.408)"><g><text x="-0.13" y="0.00" font-size="49.8" font-style="italic" textLength="30.71" lengthAdjust="spacingAndGlyphs">P</text><text x="30.44" y="8.00" font-size="34" font-style="italic" textLength="19.88" lengthAdjust="spacingAndGlyphs">μ</text><text x="89.95" y="8.00" font-size="34" font-style="italic" textLength="15.44" lengthAdjust="spacingAndGlyphs">τ</text><path d="M58.6,-1.1 H80.4 M73.7,-7.95 Q76.7,-2.9 81.2,-1.1 Q76.7,0.7 73.7,5.75" fill="none" stroke="#000" stroke-width="1.75"/></g></g>
</g>
</svg></body></html>
